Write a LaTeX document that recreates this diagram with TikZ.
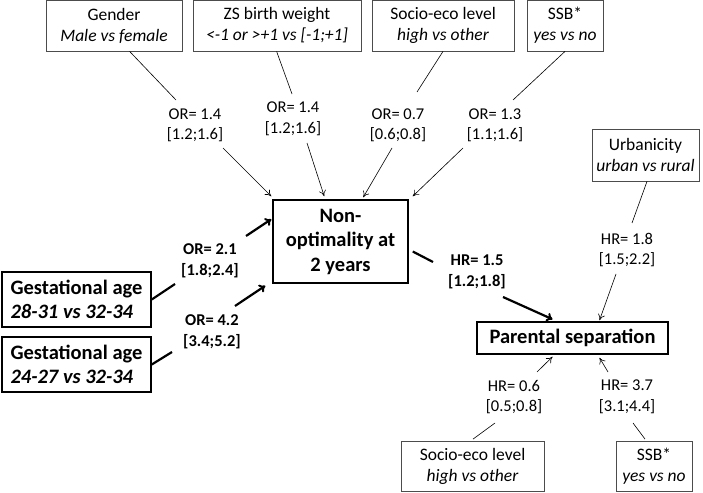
\documentclass[tikz,border=0pt]{standalone}
\usepackage{fontspec}
\setmainfont{Carlito}
\usetikzlibrary{arrows.meta,calc}
\begin{document}
\begin{tikzpicture}[x=1pt,y=-1pt,
  smallbox/.style={draw=black!70, line width=0.8pt, minimum height=51pt, inner sep=0pt, align=center, font=\fontsize{17.5}{21}\selectfont},
  mainbox/.style={draw=black, line width=1.5pt, inner sep=0pt, font=\bfseries\fontsize{20.5}{24.5}\selectfont},
  lbl/.style={inner sep=0pt, align=center, font=\fontsize{16.5}{20.5}\selectfont},
  blbl/.style={inner sep=0pt, align=center, font=\bfseries\fontsize{16.5}{20.5}\selectfont},
  thinline/.style={line width=0.6pt, draw=black},
  thinarrow/.style={thinline, -{To[length=6pt,width=7pt,line width=0.6pt]}},
  thickline/.style={line width=2.2pt},
  thickarrow/.style={thickline, -{To[length=6pt,width=9pt,line width=2pt]}}
]
\useasboundingbox (0,0) rectangle (703,492);

% top boxes
\node[smallbox, minimum width=136pt] (gender) at (114,25.5) {Gender\\{\itshape Male vs female}};
\node[smallbox, minimum width=168pt] (zs) at (277,25.5) {ZS birth weight\\{\itshape <-1 or >+1 vs [-1;+1]}};
\node[smallbox, minimum width=142pt] (socioA) at (443,25.5) {Socio-eco level\\{\itshape high vs other}};
\node[smallbox, minimum width=76pt] (ssbA) at (565,25.5) {SSB*\\{\itshape yes vs no}};
\node[smallbox, minimum width=107pt, minimum height=52pt] (urban) at (645.5,155) {Urbanicity\\{\itshape urban vs rural}};
\node[smallbox, minimum width=143pt, minimum height=50pt] (socioB) at (472.5,466.5) {Socio-eco level\\{\itshape high vs other}};
\node[smallbox, minimum width=76pt, minimum height=50pt] (ssbB) at (654,466.5) {SSB*\\{\itshape yes vs no}};

% main boxes
\node[mainbox, minimum width=135pt, minimum height=83pt, align=center] (nonopt) at (340.5,241.5) {Non-\\optimality at\\2 years};
\node[mainbox, minimum width=149pt, minimum height=55pt, align=left] (gaA) at (76.5,299.5) {Gestational age\\{\itshape 28-31 vs 32-34}};
\node[mainbox, minimum width=149pt, minimum height=55pt, align=left] (gaB) at (76.5,364.5) {Gestational age\\{\itshape 24-27 vs 32-34}};
\node[mainbox, minimum width=191pt, minimum height=32pt] (parent) at (572.5,338) {Parental separation};

% labels
\node[lbl] (l1) at (195,125.5) {OR= 1.4\\\relax [1.2;1.6]};
\node[lbl] (l2) at (293,119) {OR= 1.4\\\relax [1.2;1.6]};
\node[lbl] (l3) at (398,125.5) {OR= 0.7\\\relax [0.6;0.8]};
\node[lbl] (l4) at (495,125.5) {OR= 1.3\\\relax [1.1;1.6]};
\node[blbl] (l5) at (210,261) {OR= 2.1\\\relax [1.8;2.4]};
\node[blbl] (l6) at (212,332) {OR= 4.2\\\relax [3.4;5.2]};
\node[blbl] (l7) at (477,272) {HR= 1.5\\\relax [1.2;1.8]};
\node[lbl] (l8) at (627,250) {HR= 1.8\\\relax [1.5;2.2]};
\node[lbl] (l9) at (514,397) {HR= 0.6\\\relax [0.5;0.8]};
\node[lbl] (l10) at (627,397) {HR= 3.7\\\relax [3.1;4.4]};

% label-side ends
\coordinate (e1a) at (176,100); \coordinate (e1b) at (223,148);
\coordinate (e2a) at (292,94);  \coordinate (e2b) at (307,143);
\coordinate (e3a) at (417,92);  \coordinate (e3b) at (392,148);
\coordinate (e4a) at (513,100); \coordinate (e4b) at (463,148);
\coordinate (e5a) at (175,284); \coordinate (e5b) at (246,236);
\coordinate (e6a) at (172,352); \coordinate (e6b) at (235,306);
\coordinate (e7a) at (433,262); \coordinate (e7b) at (503,297);
\coordinate (e8a) at (632,223); \coordinate (e8b) at (616,274);
\coordinate (e9a) at (495,423); \coordinate (e9b) at (537,372);
\coordinate (e10a) at (633,423); \coordinate (e10b) at (608,372);

% connectors
\draw[thinline] ($(gender.south west)+(84,0)$) -- (e1a);
\draw[thinarrow] (e1b) -- ($(nonopt.north west)+(-1,-3)$);
\draw[thinline] ($(zs.south west)+(84,0)$) -- (e2a);
\draw[thinarrow] (e2b) -- ($(nonopt.north west)+(52,-3)$);
\draw[thinline] (socioA.south) -- (e3a);
\draw[thinarrow] (e3b) -- ($(nonopt.north west)+(91,-2)$);
\draw[thinline] (ssbA.south) -- (e4a);
\draw[thinarrow] (e4b) -- ($(nonopt.north east)+(4,-3)$);

\draw[thickline] (gaA.east) -- (e5a);
\draw[thickarrow] (e5b) -- ($(nonopt.north west)+(-1,20)$);
\draw[thickline] (gaB.east) -- (e6a);
\draw[thickarrow] (e6b) -- ($(nonopt.south west)+(-7,2)$);

\draw[thickline] ($(nonopt.east)+(4,10)$) -- (e7a);
\draw[thickarrow] (e7b) -- ($(parent.north)+(-20,-2)$);
\draw[thinline] ($(urban.south)+(1.5,0)$) -- (e8a);
\draw[thinarrow] (e8b) -- ($(parent.north)+(27,-1)$);
\draw[thinline] ($(socioB.north)+(0.5,-2)$) -- (e9a);
\draw[thinarrow] (e9b) -- ($(parent.south)+(-20,2)$);
\draw[thinline] ($(ssbB.north)+(-9,-2)$) -- (e10a);
\draw[thinarrow] (e10b) -- ($(parent.south)+(27,3)$);
\end{tikzpicture}
\end{document}
